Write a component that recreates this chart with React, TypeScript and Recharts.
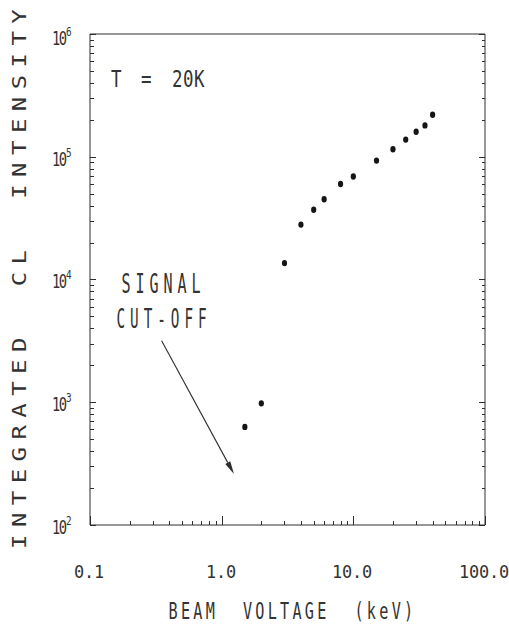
import React from "react";
import { ScatterChart, Scatter, XAxis, YAxis, ReferenceLine } from "recharts";

// beam voltage (keV) vs integrated CL intensity
const voltage = [1.5, 2, 3, 4, 5, 6, 8, 10, 15, 20, 25, 30, 35, 40];
const intensity = [630, 980, 13600, 28000, 37000, 45000, 60000, 69000, 93000, 115000, 138000, 160000, 180000, 220000];

const xMajor = [0.1, 1, 10, 100];
const xLabels = ["0.1", "1.0", "10.0", "100.0"];
const yMajor = [1e2, 1e3, 1e4, 1e5, 1e6];
const yExp = ["2", "3", "4", "5", "6"];
const minorSteps = [2, 3, 4, 5, 6, 7, 8, 9];

// "signal cut-off" arrow, in data units
const arrowFrom = { x: 0.35, y: 3170 };
const arrowTo = { x: 1.24, y: 260 };

const points = voltage.map((v, i) => ({ x: v, y: intensity[i] }));

const withMinors = (majors: number[]) =>
  [
    ...majors,
    ...majors.slice(0, -1).flatMap((d) => minorSteps.map((k) => +(k * d).toPrecision(3))),
  ].sort((a, b) => a - b);

const xTicks = withMinors(xMajor);
const yTicks = withMinors(yMajor);

const LINE = "#2e2e2e";
const INK = "#333";
const MONO = "'DejaVu Sans Mono', 'Liberation Mono', monospace";

function Txt({ x, y, cap, pitch, sx = 0.7, text, anchor = "start", rot = false }: any) {
  const fs = cap / 0.729;
  const adv = 0.602 * fs * sx;
  const ls = pitch ? (pitch - adv) / sx : 0;
  return (
    <text
      transform={`translate(${x} ${y})${rot ? " rotate(-90)" : ""} scale(${sx} 1)`}
      fontFamily={MONO}
      fontSize={fs}
      letterSpacing={ls}
      textAnchor={anchor}
      fill={INK}
      xmlSpace="preserve"
      style={{ whiteSpace: "pre" }}
    >
      {text}
    </text>
  );
}

const snap = (v: any) => Math.round(Number(v)) + 0.5;

function XTick(props: any) {
  const { payload, side } = props;
  const x = snap(props.x);
  const y = Number(props.y);
  const i = xMajor.indexOf(payload.value);
  const len = i >= 0 ? 9 : 4;
  const y2 = side === "top" ? y + len : y - len;
  return (
    <g>
      <path d={`M${x},${y}L${x},${y2}`} stroke={LINE} strokeWidth={1} fill="none" shapeRendering="crispEdges" />
      {side !== "top" && i >= 0 && (
        <Txt x={x - 1.5} y={y + 53} cap={13} pitch={10} sx={0.95} anchor="middle" text={xLabels[i]} />
      )}
    </g>
  );
}

function YTick(props: any) {
  const { payload, side } = props;
  const x = Number(props.x);
  const y = snap(props.y);
  const i = yMajor.indexOf(payload.value);
  const len = i >= 0 ? 6 : 3.5;
  const dy = payload.value === 1e6 ? 3 : 1;
  const x2 = side === "right" ? x - len : x + len;
  return (
    <g>
      <path d={`M${x},${y}L${x2},${y}`} stroke={LINE} strokeWidth={1} fill="none" shapeRendering="crispEdges" />
      {side !== "right" && i >= 0 && (
        <g>
          <Txt x={52} y={y + 7 + dy} cap={14} pitch={6.8} sx={0.72} text="10" />
          <Txt x={66} y={y - 1.5 + dy} cap={8.5} sx={0.8} text={yExp[i]} />
        </g>
      )}
    </g>
  );
}

function Dot({ cx, cy }: any) {
  return <ellipse cx={cx} cy={cy} rx={2.6} ry={3.2} fill="#151515" />;
}

function Arrow({ x1, y1, x2, y2 }: any) {
  const dx = x2 - x1;
  const dy = y2 - y1;
  const L = Math.hypot(dx, dy);
  const ux = dx / L;
  const uy = dy / L;
  const hl = 13;
  const hw = 2.8;
  const bx = x2 - ux * hl;
  const by = y2 - uy * hl;
  return (
    <g>
      <line x1={x1} y1={y1} x2={bx} y2={by} stroke={LINE} strokeWidth={1.1} />
      <polygon
        points={`${x2},${y2} ${bx - uy * hw},${by + ux * hw} ${bx + uy * hw},${by - ux * hw}`}
        fill={LINE}
      />
    </g>
  );
}

const axisCommon = {
  type: "number" as const,
  scale: "log" as const,
  interval: 0 as const,
  allowDataOverflow: true,
  tickSize: 0,
  tickMargin: 0,
  tickLine: false,
  axisLine: { stroke: LINE },
};

export default function App() {
  return (
    <div style={{ position: "absolute", left: 0, top: 0, width: 509, height: 629, background: "#fff" }}>
      <ScatterChart width={509} height={629} margin={{ top: 24, right: 14, left: 80, bottom: 0 }}>
        <XAxis
          {...axisCommon}
          xAxisId="b"
          dataKey="x"
          domain={[0.1, 100]}
          ticks={xTicks}
          height={104}
          tick={(p: any) => <XTick {...p} side="bottom" />}
        />
        <XAxis
          {...axisCommon}
          xAxisId="t"
          orientation="top"
          domain={[0.1, 100]}
          ticks={xTicks}
          height={10}
          tick={(p: any) => <XTick {...p} side="top" />}
        />
        <YAxis
          {...axisCommon}
          yAxisId="l"
          dataKey="y"
          domain={[100, 1e6]}
          ticks={yTicks}
          width={10}
          tick={(p: any) => <YTick {...p} side="left" />}
        />
        <YAxis
          {...axisCommon}
          yAxisId="r"
          orientation="right"
          domain={[100, 1e6]}
          ticks={yTicks}
          width={10}
          tick={(p: any) => <YTick {...p} side="right" />}
        />
        <ReferenceLine
          xAxisId="b"
          yAxisId="l"
          segment={[arrowFrom, arrowTo]}
          ifOverflow="visible"
          shape={(p: any) => <Arrow {...p} />}
        />
        <Scatter
          data={points}
          xAxisId="b"
          yAxisId="l"
          shape={(p: any) => <Dot {...p} />}
          isAnimationActive={false}
        />
      </ScatterChart>
      <svg
        width={509}
        height={629}
        style={{ position: "absolute", left: 0, top: 0, pointerEvents: "none" }}
      >
        <Txt x={111} y={87} cap={17} sx={0.75} text="T" />
        <Txt x={141} y={87} cap={17} sx={0.75} text="=" />
        <Txt x={172} y={87} cap={17} pitch={11} sx={0.75} text="20K" />
        <Txt x={121.5} y={293} cap={20} pitch={14} sx={0.55} text="SIGNAL" />
        <Txt x={116.5} y={328} cap={19} pitch={13.6} sx={0.55} text="CUT-OFF" />
        <Txt x={168.5} y={619} cap={17} pitch={12.4} sx={0.65} text="BEAM  VOLTAGE  (keV)" />
        <Txt x={25.5} y={549} cap={14} pitch={21.9} sx={1.25} rot text="INTEGRATED  CL  INTENSITY" />
      </svg>
    </div>
  );
}
